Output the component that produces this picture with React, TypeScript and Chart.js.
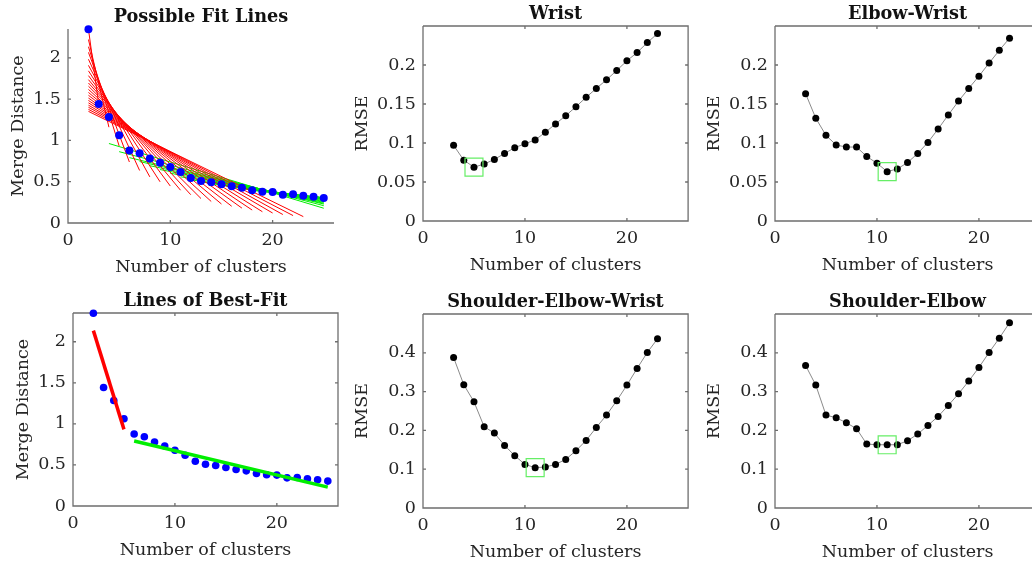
import React, { useEffect, useRef } from 'react';
import { Chart, registerables } from 'chart.js';

Chart.register(...registerables);

// ---------- data ----------
const mergeClusters = [2, 3, 4, 5, 6, 7, 8, 9, 10, 11, 12, 13, 14, 15, 16, 17, 18, 19, 20, 21, 22, 23, 24, 25];
const mergeDistance = [2.347, 1.442, 1.285, 1.063, 0.877, 0.844, 0.78, 0.731, 0.679, 0.618, 0.545, 0.509,
  0.493, 0.469, 0.444, 0.428, 0.396, 0.38, 0.376, 0.343, 0.347, 0.331, 0.319, 0.303];

const rmseClusters = [3, 4, 5, 6, 7, 8, 9, 10, 11, 12, 13, 14, 15, 16, 17, 18, 19, 20, 21, 22, 23];
const wristRmse = [0.097, 0.078, 0.069, 0.073, 0.079, 0.0866, 0.094, 0.099, 0.104, 0.1137, 0.1245, 0.135,
  0.1465, 0.1585, 0.17, 0.181, 0.193, 0.2054, 0.216, 0.2287, 0.2403];
const elbowWristRmse = [0.1633, 0.1318, 0.1098, 0.0974, 0.0948, 0.0948, 0.0827, 0.0741, 0.0633, 0.0668, 0.0749,
  0.0866, 0.1008, 0.118, 0.136, 0.1537, 0.17, 0.1857, 0.2025, 0.2188, 0.2344];
const shoulderElbowWristRmse = [0.388, 0.3176, 0.2738, 0.2094, 0.193, 0.1614, 0.1348, 0.1124, 0.1039, 0.1056,
  0.1124, 0.1253, 0.1476, 0.1742, 0.2077, 0.2395, 0.2764, 0.3167, 0.3597, 0.4009, 0.4361];
const shoulderElbowRmse = [0.3674, 0.3167, 0.2395, 0.2326, 0.2197, 0.2043, 0.1648, 0.163, 0.163, 0.163, 0.1734,
  0.1906, 0.2129, 0.2361, 0.2644, 0.2944, 0.327, 0.3622, 0.4009, 0.4378, 0.4773];

const bestFitSplit = 5;          // knee used for "Lines of Best-Fit"
const wristBest = 5;
const elbowWristBest = 11;
const shoulderElbowWristBest = 11;
const shoulderElbowBest = 11;

const xTicks = [0, 10, 20];
const mergeYTicks = [0, 0.5, 1, 1.5, 2];
const smallRmseYTicks = [0, 0.05, 0.1, 0.15, 0.2];
const largeRmseYTicks = [0, 0.1, 0.2, 0.3, 0.4];

// ---------- styling ----------
const FONT = 'DejaVu Serif';
const AXIS_COLOR = '#6e6e6e';
const TEXT_COLOR = '#262626';
const TICK_LEN = 3;
const TITLE_H = 24;
const XAXIS_H = 60;
const RIGHT_PAD = 12;

// least-squares line through a segment, evaluated at its two ends
function lineFit(xs: number[], ys: number[]) {
  const n = xs.length;
  const mx = xs.reduce((s, v) => s + v, 0) / n;
  const my = ys.reduce((s, v) => s + v, 0) / n;
  let sxy = 0;
  let sxx = 0;
  for (let i = 0; i < n; i++) {
    sxy += (xs[i] - mx) * (ys[i] - my);
    sxx += (xs[i] - mx) * (xs[i] - mx);
  }
  const slope = sxy / sxx;
  const b = my - slope * mx;
  return [
    { x: xs[0], y: b + slope * xs[0] },
    { x: xs[n - 1], y: b + slope * xs[n - 1] },
  ];
}

const pts = (xs: number[], ys: number[]) => xs.map((x, i) => ({ x, y: ys[i] }));

const matlabAxes = {
  id: 'matlabAxes',
  beforeDatasetsDraw(chart: any, _args: any, opts: any) {
    const { ctx, chartArea: a, scales } = chart;
    const x = scales.x;
    const y = scales.y;
    const box = opts.box;
    ctx.save();
    ctx.strokeStyle = AXIS_COLOR;
    ctx.lineWidth = 1.3;
    ctx.beginPath();
    ctx.moveTo(a.left, a.top);
    ctx.lineTo(a.left, a.bottom);
    ctx.lineTo(a.right, a.bottom);
    if (box) {
      ctx.lineTo(a.right, a.top);
      ctx.lineTo(a.left, a.top);
    }
    for (const t of x.ticks) {
      const px = x.getPixelForValue(t.value);
      ctx.moveTo(px, a.bottom);
      ctx.lineTo(px, a.bottom - TICK_LEN);
      if (box) {
        ctx.moveTo(px, a.top);
        ctx.lineTo(px, a.top + TICK_LEN);
      }
    }
    for (const t of y.ticks) {
      const py = y.getPixelForValue(t.value);
      ctx.moveTo(a.left, py);
      ctx.lineTo(a.left + TICK_LEN, py);
      if (box) {
        ctx.moveTo(a.right, py);
        ctx.lineTo(a.right - TICK_LEN, py);
      }
    }
    ctx.stroke();
    ctx.restore();
  },
};

type PanelSpec = {
  title: string;
  yTitle: string;
  yMax: number;
  yTicks: number[];
  box: boolean;
  L: number; T: number; W: number; H: number; YW: number;
  datasets: any[];
};

function rmseDatasets(ys: number[], best: number) {
  const bi = rmseClusters.indexOf(best);
  return [
    {
      data: [{ x: best, y: ys[bi] }],
      showLine: false,
      pointStyle: 'rect',
      pointRadius: 12.7,
      pointBorderWidth: 1.2,
      pointBorderColor: '#66ee66',
      pointBackgroundColor: 'rgba(0,0,0,0)',
      order: 0,
      clip: false,
    },
    {
      data: pts(rmseClusters, ys),
      showLine: true,
      borderColor: '#8a8a8a',
      borderWidth: 1,
      pointRadius: 3.5,
      pointBorderWidth: 0,
      pointBackgroundColor: '#000000',
      pointBorderColor: '#000000',
      order: 1,
      clip: false,
    },
  ];
}

function fanDatasets() {
  const out: any[] = [];
  let k = 0;
  for (let i = 1; i <= mergeClusters.length - 3; i++) {
    out.push({
      data: lineFit(mergeClusters.slice(0, i + 1), mergeDistance.slice(0, i + 1)),
      showLine: true, borderColor: '#ff0000', borderWidth: 1, pointRadius: 0, order: 1000 - k++,
    });
    out.push({
      data: lineFit(mergeClusters.slice(i + 1), mergeDistance.slice(i + 1)),
      showLine: true, borderColor: '#00ee00', borderWidth: 1, pointRadius: 0, order: 1000 - k++,
    });
  }
  out.push({
    data: pts(mergeClusters, mergeDistance),
    showLine: false, pointRadius: 4, pointBorderWidth: 0,
    pointBackgroundColor: '#0000ff', pointBorderColor: '#0000ff', order: 0, clip: false,
  });
  return out;
}

function bestFitDatasets() {
  const si = mergeClusters.indexOf(bestFitSplit);
  return [
    {
      data: pts(mergeClusters, mergeDistance),
      showLine: false, pointRadius: 3.8, pointBorderWidth: 0,
      pointBackgroundColor: '#0000ff', pointBorderColor: '#0000ff', order: 2, clip: false,
    },
    {
      data: lineFit(mergeClusters.slice(0, si + 1), mergeDistance.slice(0, si + 1)),
      showLine: true, borderColor: '#ff0000', borderWidth: 3.5, pointRadius: 0, order: 1,
    },
    {
      data: lineFit(mergeClusters.slice(si + 1), mergeDistance.slice(si + 1)),
      showLine: true, borderColor: '#00ee00', borderWidth: 3.5, pointRadius: 0, order: 0,
    },
  ];
}

const panels: PanelSpec[] = [
  { title: 'Possible Fit Lines', yTitle: 'Merge Distance', yMax: 2.35, yTicks: mergeYTicks, box: false,
    L: 68, T: 29, W: 266, H: 194, YW: 61, datasets: fanDatasets() },
  { title: 'Wrist', yTitle: 'RMSE', yMax: 0.25, yTicks: smallRmseYTicks, box: true,
    L: 423, T: 26, W: 267, H: 195, YW: 72, datasets: rmseDatasets(wristRmse, wristBest) },
  { title: 'Elbow-Wrist', yTitle: 'RMSE', yMax: 0.25, yTicks: smallRmseYTicks, box: true,
    L: 775, T: 26, W: 267, H: 195, YW: 72, datasets: rmseDatasets(elbowWristRmse, elbowWristBest) },
  { title: 'Lines of Best-Fit', yTitle: 'Merge Distance', yMax: 2.35, yTicks: mergeYTicks, box: true,
    L: 73, T: 313, W: 265, H: 193, YW: 61, datasets: bestFitDatasets() },
  { title: 'Shoulder-Elbow-Wrist', yTitle: 'RMSE', yMax: 0.5, yTicks: largeRmseYTicks, box: true,
    L: 423, T: 314, W: 267, H: 194, YW: 72, datasets: rmseDatasets(shoulderElbowWristRmse, shoulderElbowWristBest) },
  { title: 'Shoulder-Elbow', yTitle: 'RMSE', yMax: 0.5, yTicks: largeRmseYTicks, box: true,
    L: 775, T: 314, W: 267, H: 194, YW: 72, datasets: rmseDatasets(shoulderElbowRmse, shoulderElbowBest) },
];

function buildConfig(p: PanelSpec): any {
  return {
    type: 'scatter',
    data: { datasets: p.datasets },
    plugins: [matlabAxes],
    options: {
      responsive: false,
      animation: false,
      events: [],
      devicePixelRatio: 1,
      layout: { padding: { left: 0, top: 0, right: RIGHT_PAD, bottom: 0 } },
      plugins: {
        legend: { display: false },
        tooltip: { enabled: false },
        matlabAxes: { box: p.box },
        title: {
          display: true,
          text: p.title,
          fullSize: false,
          color: '#111111',
          font: { family: FONT, size: 17.7, weight: 'bold', lineHeight: '20px' },
          padding: { top: 2, bottom: TITLE_H - 22 },
        },
      },
      scales: {
        x: {
          type: 'linear',
          min: 0,
          max: 26,
          grid: { display: false, drawTicks: false, tickLength: 0 },
          border: { display: false },
          afterBuildTicks: (s: any) => { s.ticks = xTicks.map((v) => ({ value: v })); },
          afterFit: (s: any) => { s.height = XAXIS_H; },
          ticks: {
            padding: 7,
            color: TEXT_COLOR,
            font: { family: FONT, size: 17.5 },
            callback: (v: any) => String(v),
            maxRotation: 0,
          },
          title: {
            display: true,
            text: 'Number of clusters',
            color: TEXT_COLOR,
            font: { family: FONT, size: 17.5, lineHeight: 1.2 },
            padding: { top: 0, bottom: 5 },
          },
        },
        y: {
          type: 'linear',
          min: 0,
          max: p.yMax,
          grid: { display: false, drawTicks: false, tickLength: 0 },
          border: { display: false },
          afterBuildTicks: (s: any) => { s.ticks = p.yTicks.map((v) => ({ value: v })); },
          afterFit: (s: any) => { s.width = p.YW; },
          ticks: {
            padding: 7,
            color: TEXT_COLOR,
            font: { family: FONT, size: 17.5 },
            callback: (v: any) => String(v),
          },
          title: {
            display: true,
            text: p.yTitle,
            color: TEXT_COLOR,
            font: { family: FONT, size: 17.5, lineHeight: 1.2 },
            padding: { top: 1, bottom: 0 },
          },
        },
      },
    },
  };
}

function Panel({ p }: { p: PanelSpec }) {
  const ref = useRef<HTMLCanvasElement>(null);
  const cw = p.YW + p.W + RIGHT_PAD;
  const ch = TITLE_H + p.H + XAXIS_H;
  useEffect(() => {
    const chart = new Chart(ref.current as HTMLCanvasElement, buildConfig(p));
    return () => chart.destroy();
  }, []);
  return (
    <canvas
      ref={ref}
      width={cw}
      height={ch}
      style={{ position: 'absolute', left: p.L - p.YW, top: p.T - TITLE_H, width: cw, height: ch }}
    />
  );
}

export default function App() {
  return (
    <div
      style={{
        position: 'fixed', left: 0, top: 0, width: 1032, height: 567,
        overflow: 'hidden', background: '#ffffff',
      }}
    >
      {panels.map((p, i) => (
        <Panel key={i} p={p} />
      ))}
    </div>
  );
}
